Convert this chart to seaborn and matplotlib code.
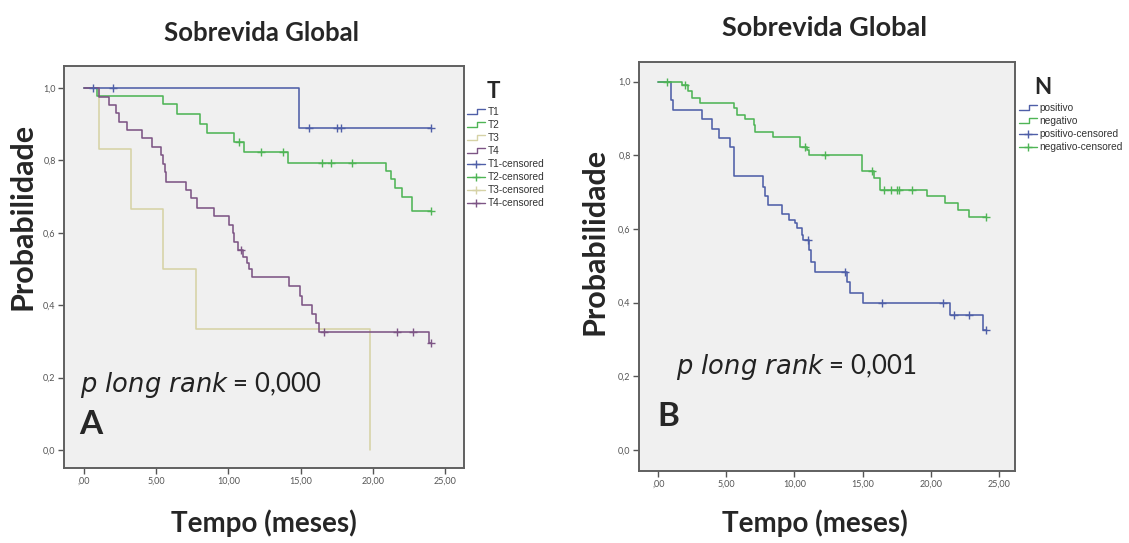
import numpy as np
import pandas as pd
import matplotlib
matplotlib.use("Agg")
import matplotlib.pyplot as plt
import seaborn as sns
from matplotlib.lines import Line2D
from matplotlib.legend_handler import HandlerBase

sns.set_style("white")
plt.rcParams["font.family"] = ["Lato", "DejaVu Sans"]

# ---- panel A: survival by T stage (step times / survival level after the step)
t1_time = [0.0, 14.9, 24.0]
t1_surv = [1.0, 0.89, 0.89]
t1_cens = [0.65, 2.0, 15.6, 17.5, 17.8, 24.0]

t2_time = [0.0, 0.88, 5.45, 6.42, 8.0, 8.5, 10.4, 11.08, 14.1, 20.9, 21.26, 21.5, 22.0, 22.7, 24.0]
t2_surv = [1.0, 0.978, 0.955, 0.927, 0.90, 0.875, 0.852, 0.823, 0.792, 0.771, 0.749, 0.725, 0.698, 0.661, 0.661]
t2_cens = [10.7, 12.26, 13.76, 16.46, 17.1, 18.58, 24.0]

t3_time = [0.0, 1.06, 3.23, 5.5, 7.76, 19.8]
t3_surv = [1.0, 0.833, 0.667, 0.5, 0.333, 0.0]
t3_cens = []

t4_time = [0.0, 1.04, 1.73, 2.19, 2.42, 3.0, 4.04, 4.73, 5.3, 5.5, 5.6, 5.7, 7.06, 7.4,
           7.8, 9.0, 10.06, 10.3, 10.4, 10.69, 11.03, 11.26, 11.45, 11.61, 14.22, 14.96,
           15.1, 15.77, 16.07, 16.23, 23.85, 24.0]
t4_surv = [1.0, 0.976, 0.953, 0.930, 0.907, 0.884, 0.861, 0.838, 0.815, 0.79, 0.767, 0.741,
           0.718, 0.695, 0.670, 0.646, 0.622, 0.599, 0.575, 0.552, 0.534, 0.516, 0.50, 0.477,
           0.453, 0.425, 0.40, 0.375, 0.35, 0.327, 0.295, 0.295]
t4_cens = [10.9, 16.6, 21.66, 22.74, 24.0]

# ---- panel B: survival by N status
pos_time = [0.0, 0.93, 1.05, 3.19, 3.93, 4.42, 5.28, 5.53, 7.69, 7.86, 8.03, 9.06, 9.58,
            10.04, 10.21, 10.53, 10.65, 11.08, 11.25, 11.5, 13.88, 14.07, 15.05, 21.42, 23.86, 24.06]
pos_surv = [1.0, 0.95, 0.923, 0.898, 0.871, 0.846, 0.822, 0.744, 0.715, 0.688, 0.665, 0.641,
            0.624, 0.615, 0.602, 0.584, 0.570, 0.543, 0.511, 0.484, 0.457, 0.425, 0.398, 0.367,
            0.326, 0.326]
pos_cens = [11.01, 13.71, 16.4, 20.88, 21.71, 22.81, 24.06]

neg_time = [0.0, 1.72, 2.21, 2.46, 3.07, 5.58, 5.77, 6.39, 7.0, 7.13, 8.43, 10.44, 10.93,
            11.06, 14.93, 15.85, 16.27, 19.7, 21.05, 22.03, 22.81, 24.06]
neg_surv = [1.0, 0.99, 0.973, 0.955, 0.941, 0.928, 0.909, 0.898, 0.882, 0.864, 0.849, 0.822,
            0.814, 0.801, 0.756, 0.738, 0.706, 0.688, 0.670, 0.652, 0.632, 0.632]
neg_cens = [0.61, 1.97, 10.81, 12.24, 15.7, 16.6, 17.1, 17.5, 17.7, 18.6, 24.06]

x_ticks = [0, 5, 10, 15, 20, 25]
x_ticklabels = [",00", "5,00", "10,00", "15,00", "20,00", "25,00"]
y_ticks = [0.0, 0.2, 0.4, 0.6, 0.8, 1.0]
y_ticklabels = ["0,0", "0,2", "0,4", "0,6", "0,8", "1,0"]

colors = {"T1": "#4f5fa8", "T2": "#4fb556", "T3": "#d6d2a6", "T4": "#7d5585",
          "positivo": "#4f5fa8", "negativo": "#4fb556"}


class StepHandler(HandlerBase):
    # SPSS style step glyph in the legend
    def create_artists(self, legend, orig_handle, xdescent, ydescent, width, height, fontsize, trans):
        xs = [-xdescent, -xdescent + width * 0.55, -xdescent + width * 0.55, -xdescent + width]
        ys = [height * 0.15 - ydescent] * 2 + [height * 0.85 - ydescent] * 2
        ln = Line2D(xs, ys, color=orig_handle.get_color(), lw=1.0, transform=trans)
        return [ln]


def km_curve(ax, times, surv, cens, color):
    df = pd.DataFrame({"tempo": times, "prob": surv})
    sns.lineplot(data=df, x="tempo", y="prob", drawstyle="steps-post", color=color,
                 lw=1.15, estimator=None, ax=ax)
    if len(cens):
        idx = np.searchsorted(times, cens, side="right") - 1
        cdf = pd.DataFrame({"tempo": cens, "prob": np.asarray(surv)[idx]})
        sns.scatterplot(data=cdf, x="tempo", y="prob", marker="+", color=color, s=28,
                        linewidth=1.0, ax=ax, zorder=5)


def style_axes(ax, xlim, ylim):
    ax.set_facecolor("#f0f0f0")
    ax.set_xlim(*xlim)
    ax.set_ylim(*ylim)
    ax.set_xticks(x_ticks)
    ax.set_xticklabels(x_ticklabels)
    ax.set_yticks(y_ticks)
    ax.set_yticklabels(y_ticklabels)
    ax.tick_params(axis="both", direction="out", length=4, width=1, color="#555555",
                   labelsize=6.5, labelcolor="#555555", pad=2, left=True, bottom=True)
    ax.set_xlabel("")
    ax.set_ylabel("")
    for sp in ax.spines.values():
        sp.set_color("#606060")
        sp.set_linewidth(1.4)


W, H = 1129, 543
fig = plt.figure(figsize=(W / 100, H / 100), dpi=100)

axA = fig.add_axes([64 / W, 1 - 468 / H, 400 / W, 402 / H])
km_curve(axA, t3_time, t3_surv, t3_cens, colors["T3"])
km_curve(axA, t2_time, t2_surv, t2_cens, colors["T2"])
km_curve(axA, t1_time, t1_surv, t1_cens, colors["T1"])
km_curve(axA, t4_time, t4_surv, t4_cens, colors["T4"])
style_axes(axA, (-1.385, 26.3), (-0.0497, 1.061))

axB = fig.add_axes([639 / W, 1 - 471 / H, 376 / W, 409 / H])
km_curve(axB, pos_time, pos_surv, pos_cens, colors["positivo"])
km_curve(axB, neg_time, neg_surv, neg_cens, colors["negativo"])
style_axes(axB, (-1.42, 26.2), (-0.057, 1.053))


# legends (outside the plot frame, as in SPSS output)
def make_legend(names, x_px, y_px):
    handles, labels = [], []
    for n in names:
        handles.append(Line2D([], [], color=colors[n]))
        labels.append(n)
    for n in names:
        handles.append(Line2D([], [], color=colors[n], marker="+", markersize=6, lw=1.0))
        labels.append(n + "-censored")
    hmap = {h: StepHandler() for h in handles[:len(names)]}
    leg = fig.legend(handles, labels, loc="upper left", bbox_to_anchor=(x_px / W, 1 - y_px / H),
                     frameon=False, fontsize=7.3, handlelength=1.8, handletextpad=0.2,
                     labelspacing=0.3, borderpad=0, borderaxespad=0, handler_map=hmap)
    for t in leg.get_texts():
        t.set_family(["Liberation Sans", "DejaVu Sans"])
        t.set_color("#333333")
    return leg


make_legend(["T1", "T2", "T3", "T4"], 467, 107)
make_legend(["positivo", "negativo"], 1019, 103)

fig.text(493 / W, 1 - 92 / H, "T", fontsize=16, fontweight="bold", ha="center", va="center")
fig.text(1043 / W, 1 - 88 / H, "N", fontsize=16, fontweight="bold", ha="center", va="center")

# titles and axis labels
fig.text(262 / W, 1 - 33 / H, "Sobrevida Global", fontsize=18.5, fontweight="bold", ha="center", va="center")
fig.text(825 / W, 1 - 28 / H, "Sobrevida Global", fontsize=19.5, fontweight="bold", ha="center", va="center")
fig.text(264 / W, 1 - 523 / H, "Tempo (meses)", fontsize=20, fontweight="bold", ha="center", va="center")
fig.text(815 / W, 1 - 523 / H, "Tempo (meses)", fontsize=20, fontweight="bold", ha="center", va="center")
fig.text(23 / W, 1 - 216 / H, "Probabilidade", fontsize=22, fontweight="bold", rotation=90,
         ha="center", va="center")
fig.text(595 / W, 1 - 241 / H, "Probabilidade", fontsize=22, fontweight="bold", rotation=90,
         ha="center", va="center")

# annotations inside the plots
axA.text(-0.3, 0.18, r"$\it{p\ long\ rank}$ = 0,000", fontsize=18.5, color="#222222",
         ha="left", va="center")
axA.text(-0.3, 0.07, "A", fontsize=24, fontweight="bold", va="center")
axB.text(1.3, 0.225, r"$\it{p\ long\ rank}$ = 0,001", fontsize=18.5, color="#222222",
         ha="left", va="center")
axB.text(-0.1, 0.09, "B", fontsize=24, fontweight="bold", va="center")

fig.savefig("out.png", dpi=100)
